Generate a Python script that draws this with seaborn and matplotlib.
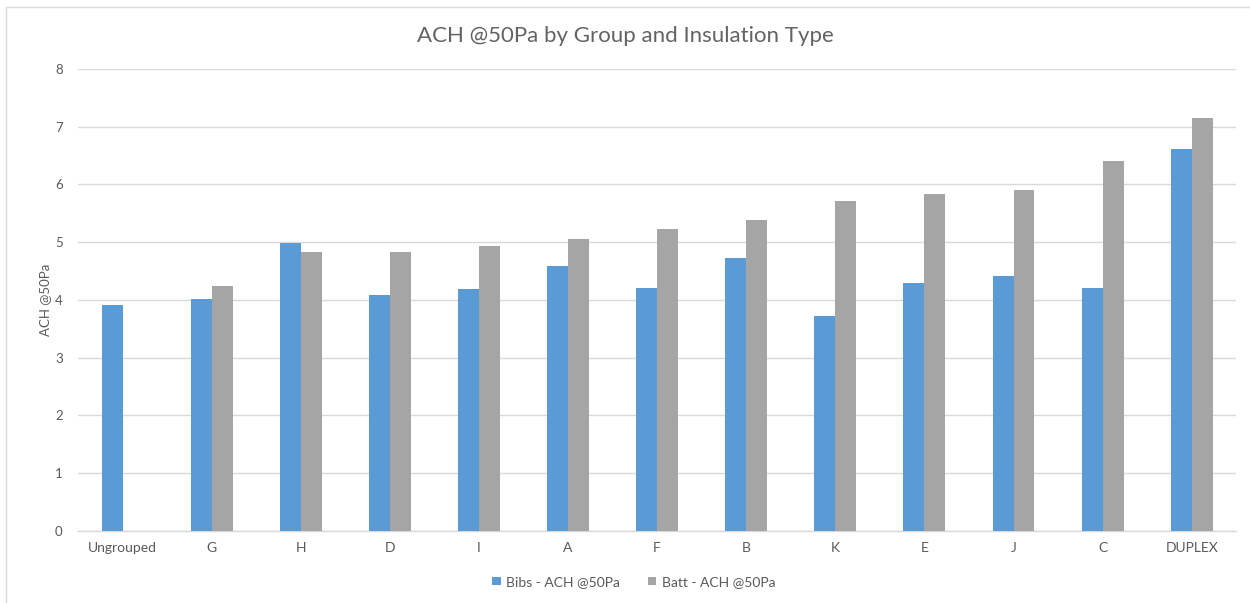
import numpy as np
import pandas as pd
import matplotlib
matplotlib.use("Agg")
import matplotlib.pyplot as plt
from matplotlib.patches import Rectangle
import seaborn as sns

# Air changes per hour at 50 Pa, by builder group and insulation type
groups = ["Ungrouped", "G", "H", "D", "I", "A", "F", "B", "K", "E", "J", "C", "DUPLEX"]
bibs_ach = [3.92, 4.01, 4.99, 4.08, 4.19, 4.59, 4.21, 4.72, 3.72, 4.30, 4.41, 4.21, 6.61]
batt_ach = [np.nan, 4.25, 4.83, 4.83, 4.94, 5.06, 5.23, 5.39, 5.72, 5.83, 5.90, 6.41, 7.15]
series_names = ["Bibs - ACH @50Pa", "Batt - ACH @50Pa"]
y_ticks = [0, 1, 2, 3, 4, 5, 6, 7, 8]

df = pd.DataFrame({
    "Group": groups * 2,
    "Series": [series_names[0]] * len(groups) + [series_names[1]] * len(groups),
    "ACH": bibs_ach + batt_ach,
})

sns.set_theme(style="white")
plt.rcParams["font.family"] = ["Lato", "DejaVu Sans"]

text_color = "#595959"
fig = plt.figure(figsize=(12.5, 6.03), dpi=100)
ax = fig.add_axes([0.0624, 0.1194, 0.9266, 0.7662])

sns.barplot(
    data=df, x="Group", y="ACH", hue="Series", order=groups,
    hue_order=series_names, palette=["#5B9BD5", "#A5A5A5"],
    width=0.47, gap=0, saturation=1, errorbar=None, linewidth=0,
    ax=ax, zorder=3,
)

ax.set_xlim(-0.5, len(groups) - 0.5)
ax.set_ylim(0, 8)
ax.set_yticks(y_ticks)
ax.set_yticklabels([str(t) for t in y_ticks])
ax.yaxis.grid(True, color="#D9D9D9", linewidth=1.0, zorder=0)
ax.set_axisbelow(True)
for side in ["top", "right", "left"]:
    ax.spines[side].set_visible(False)
ax.spines["bottom"].set_color("#D9D9D9")
ax.spines["bottom"].set_linewidth(1.0)
ax.tick_params(axis="y", length=0, labelsize=9.5, labelcolor=text_color, pad=11)
ax.tick_params(axis="x", length=0, labelsize=10, labelcolor=text_color, pad=8)

ax.set_xlabel("")
ax.set_ylabel("ACH @50Pa", fontsize=9.5, color=text_color, labelpad=3)

fig.text(0.5, 0.94, "ACH @50Pa by Group and Insulation Type",
         ha="center", va="center", fontsize=16, color="#636363",
         fontweight="normal")

leg = ax.legend(loc="center", bbox_to_anchor=(0.48, -0.11), ncol=2,
                frameon=False, fontsize=10, handlelength=0.6, handleheight=0.6,
                handletextpad=0.4, columnspacing=2.0)
for t in leg.get_texts():
    t.set_color(text_color)

# chart frame
fig.patches.append(Rectangle((0.005, -0.01), 1.02, 0.998, transform=fig.transFigure,
                             fill=False, edgecolor="#D9D9D9", linewidth=1.0))

fig.savefig("out.png", dpi=100, facecolor="white")
